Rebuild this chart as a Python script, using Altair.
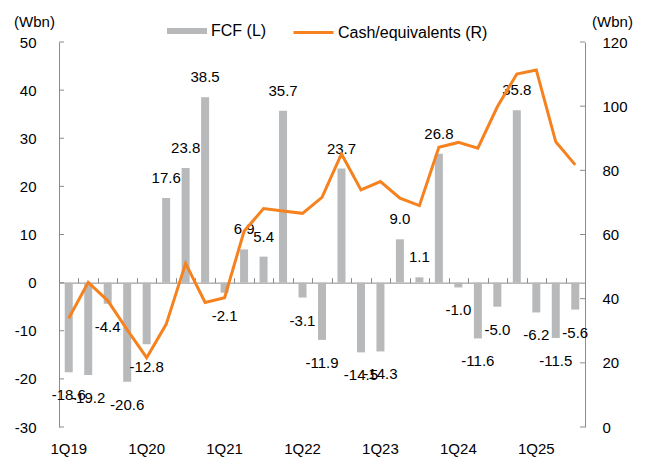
import altair as alt
import pandas as pd

quarters = ["1Q19", "2Q19", "3Q19", "4Q19", "1Q20", "2Q20", "3Q20", "4Q20",
            "1Q21", "2Q21", "3Q21", "4Q21", "1Q22", "2Q22", "3Q22", "4Q22",
            "1Q23", "2Q23", "3Q23", "4Q23", "1Q24", "2Q24", "3Q24", "4Q24",
            "1Q25", "2Q25", "3Q25"]
fcf = [-18.6, -19.2, -4.4, -20.6, -12.8, 17.6, 23.8, 38.5,
       -2.1, 6.9, 5.4, 35.7, -3.1, -11.9, 23.7, -14.5,
       -14.3, 9.0, 1.1, 26.8, -1.0, -11.6, -5.0, 35.8,
       -6.2, -11.5, -5.6]
cash = [33.9, 45.1, 39.4, 30.3, 21.6, 32.0, 51.0, 38.8,
        40.3, 61.0, 68.1, 67.3, 66.6, 71.6, 85.1, 73.9,
        76.5, 71.3, 69.0, 87.2, 88.7, 86.9, 99.8, 110.0,
        111.3, 88.9, 81.7]
left_ticks = [-30, -20, -10, 0, 10, 20, 30, 40, 50]
right_ticks = [0, 20, 40, 60, 80, 100, 120]
left_domain = [-30, 50]
right_domain = [0, 120]
series_fcf = "FCF (L)"
series_cash = "Cash/equivalents (R)"

W, H = 526, 385
FONT = "Liberation Sans"
GRAY = "#b8b9bb"
ORANGE = "#f5821f"
AXIS = "#8c8c8c"
FS = 15

df = pd.DataFrame({"q": quarters, "fcf": fcf, "cash": cash})
df["lbl"] = [f"{v:.1f}" for v in fcf]
df["s1"] = series_fcf
df["s2"] = series_cash

xs = alt.Scale(paddingInner=0, paddingOuter=0)
lscale = alt.Scale(domain=left_domain, nice=False, zero=False)
rscale = alt.Scale(domain=right_domain, nice=False, zero=False)

bars = alt.Chart(df).mark_bar(size=8).encode(
    x=alt.X("q:N", sort=quarters, scale=xs,
            axis=alt.Axis(orient="top", offset=-H * 50 / 80, labels=False,
                          domain=True, domainColor=AXIS, ticks=True, tickSize=5,
                          tickColor=AXIS, tickBand="extent", title=None, grid=False)),
    y=alt.Y("fcf:Q", scale=lscale,
            axis=alt.Axis(orient="left", values=left_ticks, ticks=False, labelPadding=23,
                          labelExpr="'' + datum.value", title="(Wbn)", titleAngle=0,
                          titleX=-25, titleY=-21, titleAlign="center",
                          titleBaseline="middle", grid=False, domainColor=AXIS)),
    color=alt.Color("s1:N", scale=alt.Scale(domain=[series_fcf], range=[GRAY]),
                    legend=alt.Legend(orient="none", legendX=108, legendY=-31, title=None,
                                      symbolType="M-1,-0.15H1V0.15H-1Z", symbolSize=1600,
                                      symbolStrokeWidth=0, labelOffset=4, padding=0)),
)

pos = alt.Chart(df).transform_filter("datum.fcf >= 0").mark_text(
    dy=-20, fontSize=FS, font=FONT, color="black", baseline="middle").encode(
    x=alt.X("q:N", sort=quarters, scale=xs, axis=None),
    y=alt.Y("fcf:Q", scale=lscale, axis=None),
    text="lbl:N",
)
neg = alt.Chart(df).transform_filter("datum.fcf < 0").mark_text(
    dy=23, fontSize=FS, font=FONT, color="black", baseline="middle").encode(
    x=alt.X("q:N", sort=quarters, scale=xs, axis=None),
    y=alt.Y("fcf:Q", scale=lscale, axis=None),
    text="lbl:N",
)
lticks = alt.Chart(pd.DataFrame({"t": left_ticks})).mark_rule(color=AXIS).encode(
    y=alt.Y("t:Q", scale=lscale, axis=None), x=alt.value(0), x2=alt.value(5))

line = alt.Chart(df).mark_line(strokeWidth=3).encode(
    x=alt.X("q:N", sort=quarters, scale=xs,
            axis=alt.Axis(orient="bottom", domain=False, ticks=False, labelPadding=14,
                          labelExpr="indexof(datum.label, '1Q') == 0 ? datum.label : ''",
                          labelAngle=0, labelOverlap=False, title=None, grid=False)),
    y=alt.Y("cash:Q", scale=rscale,
            axis=alt.Axis(orient="right", values=right_ticks, ticks=False, labelPadding=17,
                          title="(Wbn)", titleAngle=0, titleX=27, titleY=-21,
                          titleAlign="center", titleBaseline="middle", grid=False,
                          domainColor=AXIS)),
    stroke=alt.Stroke("s2:N", scale=alt.Scale(domain=[series_cash], range=[ORANGE]),
                      legend=alt.Legend(orient="none", legendX=233, legendY=-31, title=None,
                                        symbolType="stroke", symbolSize=1600,
                                        symbolStrokeWidth=3, labelOffset=3, padding=0)),
)
rticks = alt.Chart(pd.DataFrame({"t": right_ticks})).mark_rule(color=AXIS).encode(
    y=alt.Y("t:Q", scale=rscale, axis=None), x=alt.value(W - 5), x2=alt.value(W))

chart = alt.layer(bars, pos, neg, lticks, line, rticks).resolve_scale(
    y="independent").resolve_axis(x="independent").properties(
    width=W, height=H, padding={"left": 5, "top": 3, "right": 5, "bottom": 5}
).configure_view(stroke=None).configure_axis(
    labelFont=FONT, labelFontSize=FS, labelColor="black",
    titleFont=FONT, titleFontSize=FS, titleFontWeight="normal", titleColor="black",
).configure_legend(
    labelFont=FONT, labelFontSize=16, labelColor="black",
)

chart.save("out.html", embed_options={"renderer": "svg", "actions": False})
